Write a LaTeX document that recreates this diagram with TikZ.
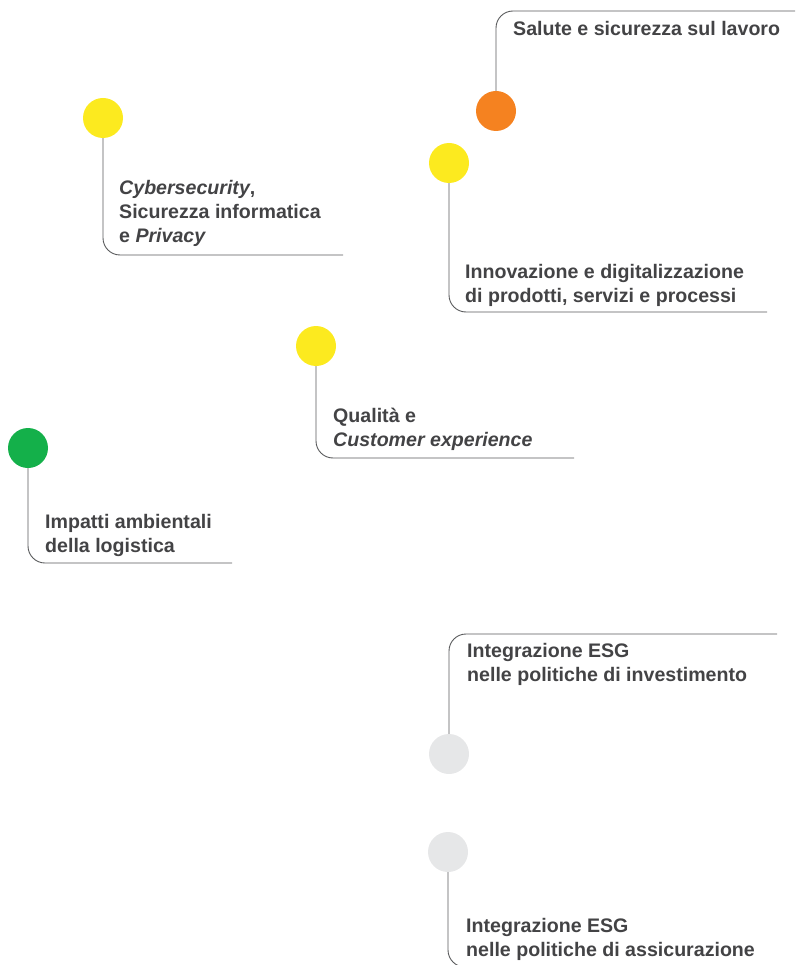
\documentclass[tikz,border=0pt]{standalone}
\usepackage{fontspec}
\setmainfont{Liberation Sans}
\definecolor{dotorange}{HTML}{F58220}
\definecolor{dotyellow}{HTML}{FCEA1F}
\definecolor{dotgreen}{HTML}{14B04A}
\definecolor{dotgray}{HTML}{E6E7E8}
\definecolor{textgray}{HTML}{434345}
\definecolor{linegray}{HTML}{58595B}
\begin{document}
\begin{tikzpicture}[
        x=1pt, y=-1pt,
        font=\fontsize{19.6}{24}\selectfont\bfseries,
        dot/.style={
            circle,
            fill=#1,
            minimum size=40pt,
            inner sep=0pt
        },
        topic/.style={anchor=base west, align=left, inner sep=0pt, text=textgray},
        line/.style={draw=linegray, line width=0.9pt, rounded corners=17pt}
    ]
        \useasboundingbox (0,0) rectangle (795,965);

        \node[dot=dotorange] (health) at (496,111) {};
        \node[dot=dotyellow] (cyber) at (103,118) {};
        \node[dot=dotyellow] (innovation) at (449,163) {};
        \node[dot=dotyellow] (quality) at (316,346) {};
        \node[dot=dotgreen] (logistics) at (28,448) {};
        \node[dot=dotgray] (investment) at (449,754) {};
        \node[dot=dotgray] (insurance) at (448,852) {};

        % base anchor sits on the last line
        \node[topic] (healthtext) at (513,36) {Salute e sicurezza sul lavoro};
        \node[topic] (cybertext) at (119,243) {\textit{Cybersecurity},\\Sicurezza informatica\\e \textit{Privacy}};
        \node[topic] (innovationtext) at (465,302) {Innovazione e digitalizzazione\\di prodotti, servizi e processi};
        \node[topic] (qualitytext) at (333,446) {Qualità e\\\textit{Customer experience}};
        \node[topic] (logisticstext) at (45,552) {Impatti ambientali\\della logistica};
        \node[topic] (investmenttext) at (467,681) {Integrazione ESG\\nelle politiche di investimento};
        \node[topic] (insurancetext) at (466,956) {Integrazione ESG\\nelle politiche di assicurazione};

        \coordinate (healthend) at (795,11);
        \coordinate (cyberend) at (343,255);
        \coordinate (innovationend) at (767,312);
        \coordinate (qualityend) at (574,458);
        \coordinate (logisticsend) at (232,563);
        \coordinate (investmentend) at (777,634);
        \coordinate (insuranceend) at (767,967);

        \draw[line] (health.north) |- (healthend);
        \draw[line] (cyber.south) |- (cyberend);
        \draw[line] (innovation.south) |- (innovationend);
        \draw[line] (quality.south) |- (qualityend);
        \draw[line] (logistics.south) |- (logisticsend);
        \draw[line] (investment.north) |- (investmentend);
        \draw[line] (insurance.south) |- (insuranceend);
    \end{tikzpicture}
\end{document}
